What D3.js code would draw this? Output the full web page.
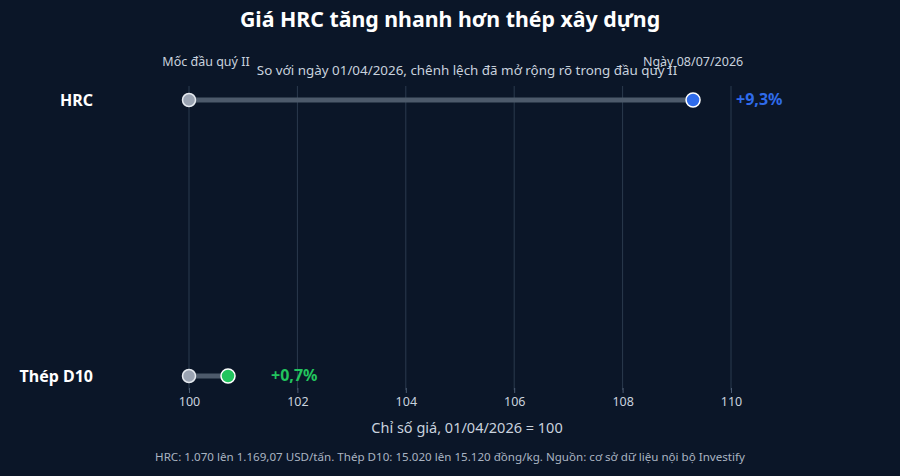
<!DOCTYPE html>
<html>
<head>
<meta charset="utf-8">
<script src="https://cdn.jsdelivr.net/npm/d3@7"></script>
<style>
    body { margin: 0; background: #0b1628; }
    svg { display: block; font-family: "Noto Sans", sans-serif; }
</style>
</head>
<body>
<div id="chart"></div>
<script>
// data
var categories = ["HRC", "Thép D10"];
var startValues = [100, 100];
var endValues = [109.3, 100.72];
var changeLabels = ["+9,3%", "+0,7%"];
var endColors = ["#2f6bea", "#22c55e"];
var tickValues = [100, 102, 104, 106, 108, 110];

var width = 900, height = 476;
var margin = { top: 86, right: 155, bottom: 86, left: 189 };

var svg = d3.select("#chart").append("svg")
    .attr("width", width)
    .attr("height", height);

svg.append("rect")
    .attr("width", width)
    .attr("height", height)
    .attr("fill", "#0b1628");

var x = d3.scaleLinear()
    .domain([100, 110])
    .range([margin.left, 731]);

var y = d3.scalePoint()
    .domain(categories)
    .range([100, 376]);

var rows = categories.map(function (c, i) {
    return { name: c, start: startValues[i], end: endValues[i], label: changeLabels[i], color: endColors[i] };
});

// grid
svg.append("g")
    .selectAll("line")
    .data(tickValues)
    .join("line")
    .attr("x1", function (d) { return x(d); })
    .attr("x2", function (d) { return x(d); })
    .attr("y1", 86)
    .attr("y2", 390)
    .attr("stroke", "#2b3a4e")
    .attr("stroke-width", 1);

// axis
var axis = svg.append("g")
    .attr("transform", "translate(0,388)")
    .call(d3.axisBottom(x).tickValues(tickValues).tickSize(5).tickPadding(4).tickFormat(d3.format("d")));
axis.select(".domain").remove();
axis.selectAll(".tick line").attr("stroke", "#4a5a70");
axis.selectAll(".tick text")
    .attr("fill", "#c9d2de")
    .style("font-size", "12.5px")
    .style("font-family", "'Noto Sans', sans-serif");

// title
svg.append("text")
    .attr("x", 450)
    .attr("y", 27)
    .attr("text-anchor", "middle")
    .attr("fill", "#ffffff")
    .style("font-size", "21.3px")
    .style("font-weight", "bold")
    .text("Giá HRC tăng nhanh hơn thép xây dựng");

svg.append("text")
    .attr("x", 467)
    .attr("y", 75)
    .attr("text-anchor", "middle")
    .attr("fill", "#c9d2de")
    .style("font-size", "13.4px")
    .text("So với ngày 01/04/2026, chênh lệch đã mở rộng rõ trong đầu quý II");

// column labels
svg.append("text")
    .attr("x", 206)
    .attr("y", 66)
    .attr("text-anchor", "middle")
    .attr("fill", "#c9d2de")
    .style("font-size", "12.5px")
    .text("Mốc đầu quý II");

svg.append("text")
    .attr("x", x(endValues[0]))
    .attr("y", 66)
    .attr("text-anchor", "middle")
    .attr("fill", "#c9d2de")
    .style("font-size", "12.5px")
    .text("Ngày 08/07/2026");

// rows
var row = svg.append("g")
    .selectAll("g")
    .data(rows)
    .join("g")
    .attr("transform", function (d) { return "translate(0," + y(d.name) + ")"; });

row.append("text")
    .attr("x", 93)
    .attr("dy", "0.35em")
    .attr("text-anchor", "end")
    .attr("fill", "#ffffff")
    .style("font-size", "16px")
    .style("font-weight", "bold")
    .text(function (d) { return d.name; });

row.append("line")
    .attr("x1", function (d) { return x(d.start); })
    .attr("x2", function (d) { return x(d.end); })
    .attr("stroke", "#4d5a6b")
    .attr("stroke-width", 5);

row.append("circle")
    .attr("cx", function (d) { return x(d.start); })
    .attr("r", 6.5)
    .attr("fill", "#9aa3b2")
    .attr("stroke", "#e5e9ef")
    .attr("stroke-width", 1.5);

row.append("circle")
    .attr("cx", function (d) { return x(d.end); })
    .attr("r", 7)
    .attr("fill", function (d) { return d.color; })
    .attr("stroke", "#ffffff")
    .attr("stroke-width", 1.5);

row.append("text")
    .attr("x", function (d) { return x(d.end) + 43; })
    .attr("dy", "0.3em")
    .attr("fill", function (d) { return d.color; })
    .style("font-size", "16px")
    .style("font-weight", "bold")
    .text(function (d) { return d.label; });

// axis title
svg.append("text")
    .attr("x", 467)
    .attr("y", 433)
    .attr("text-anchor", "middle")
    .attr("fill", "#c9d2de")
    .style("font-size", "14.5px")
    .text("Chỉ số giá, 01/04/2026 = 100");

// footer
svg.append("text")
    .attr("x", 450)
    .attr("y", 461)
    .attr("text-anchor", "middle")
    .attr("fill", "#aab4c2")
    .style("font-size", "11.6px")
    .text("HRC: 1.070 lên 1.169,07 USD/tấn. Thép D10: 15.020 lên 15.120 đồng/kg. Nguồn: cơ sở dữ liệu nội bộ Investify");
</script>
</body>
</html>
